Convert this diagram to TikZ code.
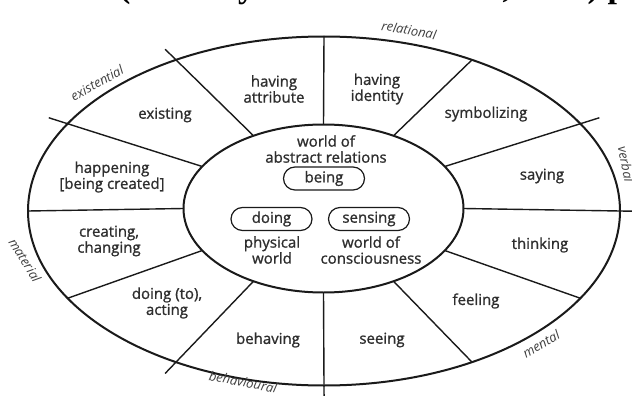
\documentclass[tikz,border=0pt]{standalone}
\usepackage{fontspec}
\setmainfont{Open Sans}
\newfontfamily\labfont[FakeBold=1.1]{Open Sans}
\newfontfamily\topfont{Liberation Serif}
\usetikzlibrary{calc}
\definecolor{ink}{HTML}{1A1A1A}
\definecolor{txt}{HTML}{2E2E2E}
\definecolor{cat}{HTML}{404040}
\tikzset{
  lab/.style={font=\labfont\fontsize{15}{16}\selectfont, text=txt, align=center, inner sep=0pt},
  catlab/.style={font=\fontsize{13}{14}\selectfont\itshape, text=cat, inner sep=0pt},
  spoke/.style={draw=ink, line width=1.4pt},
  rim/.style={draw=ink, line width=2pt},
  pill/.style={draw=ink, line width=1.2pt, rounded corners=11.5pt, minimum width=81pt,
    minimum height=23pt, inner sep=0pt, font=\labfont\fontsize{15}{16}\selectfont, text=txt}
}
\def\ocx{324}\def\ocy{211}\def\orx{296}\def\ory{174.5}
\def\icx{323.5}\def\icy{208.5}\def\irx{140}\def\iry{84}
\begin{document}
\begin{tikzpicture}[x=1pt,y=-1pt]
\useasboundingbox (0,0) rectangle (632,396);
\fill[white] (0,0) rectangle (632,396);
% clipped heading line at the very top
\begin{scope}
\clip (0,0) rectangle (632,396);
\node[anchor=base west, inner sep=0pt, font=\topfont\bfseries\fontsize{34}{36}\selectfont] (head) at (119,-2) {(Halliday and Matthiessen, 2004) p};
\end{scope}
% spoke end points
\foreach \k in {0,...,11}{
  \pgfmathsetmacro\t{30*\k}
  \coordinate (i\k) at ({\icx+\irx*cos(\t)},{\icy-\iry*sin(\t)});
  \coordinate (o\k) at ({\ocx+\orx*cos(\t)},{\ocy-\ory*sin(\t)});
}
\foreach \k in {2,3,6,7,10,11}{
  \draw[spoke] (i\k) -- (o\k);
}
\foreach \k in {0,1,4,5,8,9}{
  \draw[spoke] (i\k) -- ($(i\k)!1.14!(o\k)$);
}
\draw[rim] (\ocx,\ocy) ellipse [x radius=296pt, y radius=174.5pt];
\draw[rim, fill=white] (\icx,\icy) ellipse [x radius=140pt, y radius=84pt];
% sector labels
\node[lab] (attr) at (274,89) {having\\attribute};
\node[lab] (ident) at (377,89) {having\\identity};
\node[lab] (exist) at (165,115) {existing};
\node[lab] (symb) at (486,114) {symbolizing};
\node[lab] (happ) at (112,177) {happening\\{[being created]}};
\node[lab] (say) at (542,176) {saying};
\node[lab] (creat) at (109,241) {creating,\\changing};
\node[lab] (think) at (540,245) {thinking};
\node[lab] (doto) at (167,303) {doing (to),\\acting};
\node[lab] (feel) at (476,301) {feeling};
\node[lab] (behv) at (268,340) {behaving};
\node[lab] (see) at (382,340) {seeing};
% inner labels
\node[lab] (abstr) at (326,149) {world of\\abstract relations};
\node[pill] (being) at (324,178.5) {being};
\node[pill] (doing) at (271.5,219) {doing};
\node[pill] (sensing) at (369,219) {sensing};
\node[lab] (phys) at (272,250) {physical\\world};
\node[lab] (consc) at (371,250) {world of\\consciousness};
% category labels
\node[catlab, rotate=-10] (relational) at (409,30) {relational};
\node[catlab, rotate=29] (existential) at (97,83) {existential};
\node[catlab, rotate=-79] (verbal) at (626,164) {verbal};
\node[catlab, rotate=-58] (material) at (25,260) {material};
\node[catlab, rotate=-11] (behavioural) at (243,382) {behavioural};
\node[catlab, rotate=30] (mental) at (541,344) {mental};
\end{tikzpicture}
\end{document}
